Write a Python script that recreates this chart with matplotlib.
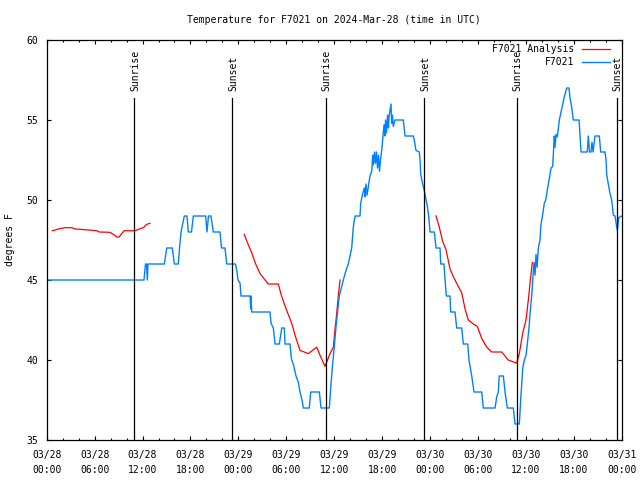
import numpy as np
import matplotlib
matplotlib.use("Agg")
import matplotlib.pyplot as plt
from matplotlib.ticker import FixedLocator, MultipleLocator

plt.rcParams["font.family"] = "DejaVu Sans Mono"
plt.rcParams["font.size"] = 7

# %% Daten (Stunden seit 03/28 00:00 UTC, Temperatur in F)

# F7021 Messwerte
obs_h = [0.0, 12.18, 12.37, 12.50, 12.60, 12.68, 14.73, 15.03, 15.73, 15.98,
         16.48, 16.63, 16.82, 17.23, 17.57, 17.73, 18.13, 18.36, 19.91, 20.07,
         20.26, 20.57, 20.86, 21.70, 21.89, 22.33, 22.54, 23.64, 23.83, 23.96,
         24.21, 24.33, 25.46, 25.55, 25.58, 25.67, 27.96, 28.09, 28.38, 28.59,
         29.13, 29.43, 29.75, 29.84, 30.47, 30.59, 30.68, 30.88, 31.22, 31.51,
         31.72, 32.01, 32.13, 32.88, 33.06, 34.14, 34.35, 35.39, 35.60, 35.81,
         36.01, 36.23, 36.44, 36.64, 36.94, 37.14, 37.48, 37.77, 37.98, 38.19,
         38.39, 38.61, 39.23, 39.32, 39.52, 39.77, 39.86, 39.98, 40.11, 40.27,
         40.48, 40.70, 40.82, 40.92, 41.05, 41.17, 41.30, 41.42, 41.55, 41.67,
         41.80, 41.95, 42.07, 42.24, 42.36, 42.43, 42.55, 42.68, 42.80, 42.86,
         42.99, 43.11, 43.20, 43.28, 43.40, 43.61, 44.65, 44.87, 45.91, 46.03,
         46.24, 46.66, 46.75, 46.83, 47.08, 47.28, 47.50, 47.66, 47.83, 48.00,
         48.54, 48.75, 49.25, 49.34, 49.75, 49.88, 50.04, 50.50, 50.59, 51.13,
         51.34, 51.97, 52.17, 52.72, 52.88, 53.22, 53.51, 54.47, 54.67, 56.14,
         56.35, 56.55, 56.66, 57.18, 57.39, 57.68, 58.43, 58.64, 59.18, 59.35,
         59.61, 59.81, 60.02, 60.18, 60.39, 60.52, 60.73, 60.86, 61.02, 61.15,
         61.27, 61.40, 61.56, 61.77, 61.90, 62.11, 62.31, 62.49, 62.74, 62.94,
         63.15, 63.36, 63.44, 63.56, 63.65, 63.78, 63.94, 64.19, 64.40, 64.62,
         64.81, 65.11, 65.40, 65.53, 65.74, 65.94, 66.66, 66.78, 66.91, 67.69,
         67.82, 67.97, 68.16, 68.28, 68.41, 68.66, 69.20, 69.37, 69.91, 70.04,
         70.12, 70.32, 70.54, 70.75, 70.95, 71.16, 71.38, 71.45, 71.63, 72.0]
obs_t = [45, 45, 46, 46, 45, 46, 46, 47, 47, 46,
         46, 47, 48, 49, 49, 48, 48, 49, 49, 48,
         49, 49, 48, 48, 47, 47, 46, 46, 45.5, 45,
         44.8, 44, 44, 43.2, 44, 43, 43, 42.3, 42, 41,
         41, 42, 42, 41, 41, 40.3, 40, 39.75, 39, 38.6,
         38, 37.4, 37, 37, 38, 38, 37, 37, 38.5, 39.8,
         40.8, 42.1, 43.1, 44, 44.6, 45, 45.6, 46, 46.5, 47,
         48.3, 49, 49, 49.8, 50.3, 50.75, 50.2, 51, 50.3, 50.8,
         51.5, 51.8, 52.8, 52.2, 53, 52.3, 53, 52, 52.8, 51.8,
         52.5, 53.1, 53.75, 54.7, 54, 55, 54.2, 55.3, 54.5, 55.2,
         55.6, 56, 54.8, 55.3, 54.6, 55, 55, 54, 54, 53.75,
         53.1, 53, 52.5, 51.6, 51, 50.6, 50, 49.6, 49, 48,
         48, 47, 47, 46, 46, 45, 44, 44, 43, 43,
         42, 42, 41, 41, 40, 39, 38, 38, 37, 37,
         37.7, 38, 39, 39, 38, 37, 37, 36, 36, 37.5,
         39.5, 40, 40.3, 41, 42, 42.9, 44, 45, 46.1, 45.3,
         46.6, 45.8, 47, 47.5, 48.5, 49.1, 49.8, 50, 50.8, 51.35,
         52, 52.1, 52.9, 54, 53.3, 54.1, 53.95, 55, 55.5, 56,
         56.45, 57, 57, 56.35, 55.8, 55, 55, 54, 53, 53,
         54, 53, 53, 53.6, 53, 54, 54, 53, 53, 52.5,
         51.6, 51, 50.4, 50, 49.06, 49, 48.3, 48.1, 48.9, 49]

# F7021 Analysis (drei Abschnitte)
ana1_h = [0.70, 1.04, 1.45, 2.29, 3.13, 3.54, 4.17, 6.26, 6.59, 7.93,
          8.34, 8.84, 9.09, 9.68, 11.06, 11.68, 12.10, 12.52, 12.94]
ana1_t = [48.08, 48.12, 48.19, 48.27, 48.27, 48.19, 48.17, 48.08, 48.0, 47.98,
          47.85, 47.67, 47.7, 48.08, 48.08, 48.2, 48.27, 48.48, 48.54]
ana2_h = [24.74, 25.24, 25.67, 26.17, 26.71, 27.34, 27.75, 29.00, 29.43, 30.05,
          30.68, 31.09, 31.72, 32.76, 33.81, 34.22, 34.85, 35.48, 35.89, 36.10,
          36.31, 36.51, 36.73]
ana2_t = [47.85, 47.2, 46.7, 46.0, 45.4, 45.0, 44.75, 44.75, 43.96, 43.1,
          42.3, 41.56, 40.6, 40.4, 40.8, 40.3, 39.6, 40.4, 40.8, 41.9,
          42.9, 44.0, 45.0]
ana3_h = [48.75, 49.16, 49.59, 50.00, 50.50, 50.92, 51.54, 51.97, 52.38, 52.79,
          53.42, 53.92, 54.47, 55.10, 55.72, 56.98, 57.80, 58.85, 59.18, 59.61,
          60.02, 60.31, 60.52, 60.81]
ana3_t = [49.0, 48.3, 47.4, 46.9, 45.7, 45.2, 44.6, 44.2, 43.2, 42.5,
          42.25, 42.1, 41.35, 40.8, 40.5, 40.5, 40.0, 39.8, 40.4, 41.7,
          42.5, 43.75, 44.8, 46.1]

# Sonnenauf-/untergang
sun_h = [10.97, 23.24, 34.94, 47.28, 58.85, 71.38]
sun_lbl = ["Sunrise", "Sunset", "Sunrise", "Sunset", "Sunrise", "Sunset"]

xtick_h = [0, 6, 12, 18, 24, 30, 36, 42, 48, 54, 60, 66, 72]
xtick_lbl = ["03/28\n00:00", "03/28\n06:00", "03/28\n12:00", "03/28\n18:00",
             "03/29\n00:00", "03/29\n06:00", "03/29\n12:00", "03/29\n18:00",
             "03/30\n00:00", "03/30\n06:00", "03/30\n12:00", "03/30\n18:00",
             "03/31\n00:00"]

# %% Plot
fig = plt.figure(figsize=(6.4, 4.8), dpi=100)
ax = fig.add_axes([46.7 / 640, 40 / 480, 575 / 640, 400 / 480])

ax.plot(ana1_h, ana1_t, color="#ff0000", lw=0.9, label="F7021 Analysis")
ax.plot(ana2_h, ana2_t, color="#ff0000", lw=0.9)
ax.plot(ana3_h, ana3_t, color="#ff0000", lw=0.9)
ax.plot(obs_h, obs_t, color="#0080ff", lw=1.0, label="F7021")

for h, lbl in zip(sun_h, sun_lbl):
    ax.plot([h, h], [35, 56.4], color="black", lw=0.9)
    ax.text(h + 0.1, 56.8, lbl, rotation=90, ha="center", va="bottom")

ax.set_xlim(0, 72)
ax.set_ylim(35, 60)
ax.xaxis.set_major_locator(FixedLocator(xtick_h))
ax.set_xticklabels(xtick_lbl)
ax.xaxis.set_minor_locator(MultipleLocator(2))
ax.yaxis.set_major_locator(MultipleLocator(5))
for lab in ax.get_xticklabels():
    lab.set_linespacing(1.6)
ax.tick_params(which="both", direction="in", top=True, right=True, width=0.8)
ax.tick_params(which="major", length=3.0)
ax.tick_params(which="minor", length=1.6)
ax.tick_params(axis="x", pad=7)
ax.tick_params(axis="y", pad=6)
for s in ax.spines.values():
    s.set_linewidth(0.9)

leg = ax.legend(loc="upper right", bbox_to_anchor=(1 - 11.7 / 575, 1 - 4 / 400),
                markerfirst=False, frameon=False, borderaxespad=0, borderpad=0,
                handlelength=2.9, handletextpad=0.8, labelspacing=0.3)
for col in leg._legend_handle_box.get_children():
    col.align = "right"

fig.text(334 / 640, 1 - 20 / 480, "Temperature for F7021 on 2024-Mar-28 (time in UTC)",
         ha="center", va="center")
fig.text(10 / 640, 0.5, "degrees F", rotation=90, ha="center", va="center")

fig.savefig("out.png", dpi=100)
